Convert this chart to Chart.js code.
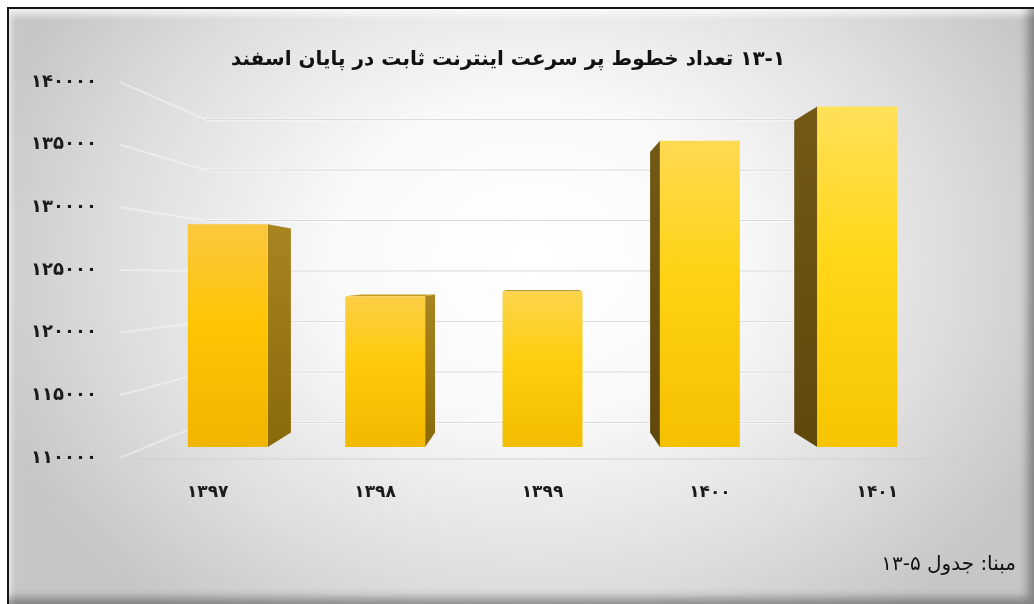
<!DOCTYPE html>
<html lang="fa">
<head>
<meta charset="utf-8">
<title>خطوط پر سرعت اینترنت ثابت</title>
<script src="https://cdn.jsdelivr.net/npm/chart.js@4.4.0/dist/chart.umd.min.js"></script>
<style>
  html, body { margin: 0; padding: 0; background: #fff; }
  #wrap { position: relative; width: 1034px; height: 604px; overflow: hidden; }
  #frame {
    position: absolute; left: 7px; top: 7px; right: 0; bottom: 0;
    border-left: 2px solid #161616; border-top: 2px solid #161616;
    background: radial-gradient(ellipse 56% 76% at 51% 42%, #ffffff 0%, #f9f9f9 35%, #dedede 72%, #c6c6c6 100%);
    box-shadow: inset -12px -12px 10px -6px rgba(0,0,0,0.35), inset 6px 10px 6px -4px rgba(255,255,255,0.7);
  }
  #chart { position: absolute; left: 0; top: 0; }
</style>
</head>
<body>
<div id="wrap">
  <div id="frame"></div>
  <canvas id="chart" width="1016" height="604" dir="rtl"></canvas>
</div>
<script>
  // data
  const years = ['۱۳۹۷', '۱۳۹۸', '۱۳۹۹', '۱۴۰۰', '۱۴۰۱'];
  const lines = [128900, 122800, 123200, 136000, 138900];
  const yTicks = [110000, 115000, 120000, 125000, 130000, 135000, 140000];
  const chartTitle = '۱۳-۱ تعداد خطوط پر سرعت اینترنت ثابت در پایان اسفند';
  const sourceNote = 'مبنا: جدول ۵-۱۳';

  const faDigits = '۰۱۲۳۴۵۶۷۸۹';
  const toFa = n => String(n).replace(/\d/g, d => faDigits[d]);

  // perspective: everything is projected toward a vanishing point
  const VX = 543, VY = 275;
  const BAR_FRONT = 0.94, BAR_BACK = 0.861, WALL = 0.805;

  function project(x, y, s) {
    return { x: VX + (x - VX) * s, y: VY + (y - VY) * s };
  }

  function poly(ctx, pts, fill) {
    ctx.beginPath();
    ctx.moveTo(pts[0].x, pts[0].y);
    for (let i = 1; i < pts.length; i++) ctx.lineTo(pts[i].x, pts[i].y);
    ctx.closePath();
    ctx.fillStyle = fill;
    ctx.fill();
  }

  function mix(c1, c2, t) {
    const c = c1.map((v, i) => Math.round(v + (c2[i] - v) * t));
    return 'rgb(' + c.join(',') + ')';
  }

  // back wall, side wall and floor lines
  const walls = {
    id: 'walls',
    beforeDatasetsDraw(chart) {
      const { ctx, chartArea: a, scales: { y } } = chart;
      ctx.save();
      ctx.lineJoin = 'round';
      y.ticks.forEach(t => {
        const py = y.getPixelForValue(t.value);
        const p1 = { x: a.left - 4, y: py };
        const p2 = project(a.left, py, WALL);
        const p3 = project(a.right, py, WALL);
        ctx.lineWidth = 2;
        ctx.strokeStyle = 'rgba(255,255,255,0.4)';
        ctx.beginPath();
        ctx.moveTo(p1.x, p1.y);
        ctx.lineTo(p2.x, p2.y);
        ctx.stroke();
        [[3, 'rgba(255,255,255,0.6)'], [1, 'rgba(200,200,200,0.7)']].forEach(([w, c]) => {
          ctx.lineWidth = w;
          ctx.strokeStyle = c;
          ctx.beginPath();
          ctx.moveTo(p2.x, p2.y);
          ctx.lineTo(p3.x, p3.y);
          ctx.stroke();
        });
      });
      // floor front edge
      const fy = y.getPixelForValue(yTicks[0]);
      ctx.lineWidth = 1;
      ctx.strokeStyle = 'rgba(205,205,205,0.8)';
      ctx.beginPath();
      ctx.moveTo(a.left, fy + 1);
      ctx.lineTo(a.right, fy + 1);
      ctx.stroke();
      ctx.restore();
    }
  };

  // 3d columns built from the bar elements
  const boxes = {
    id: 'boxes',
    afterDatasetsDraw(chart) {
      const { ctx, chartArea: a, scales: { y: yScale } } = chart;
      const meta = chart.getDatasetMeta(0);
      const floor = yScale.getPixelForValue(yTicks[0]);
      ctx.save();
      meta.data.forEach(bar => {
        const { x, y, width } = bar.getProps(['x', 'y', 'width'], true);
        const base = floor;
        const l = x - width / 2, r = x + width / 2;
        const f = [project(l, y, BAR_FRONT), project(r, y, BAR_FRONT), project(r, base, BAR_FRONT), project(l, base, BAR_FRONT)];
        const b = [project(l, y, BAR_BACK), project(r, y, BAR_BACK), project(r, base, BAR_BACK), project(l, base, BAR_BACK)];
        const t = (x - a.left) / (a.right - a.left);

        if (r < VX) {
          const g = ctx.createLinearGradient(0, f[1].y, 0, f[2].y);
          g.addColorStop(0, '#a8851f');
          g.addColorStop(1, '#8a690b');
          poly(ctx, [f[1], b[1], b[2], f[2]], g);
        }
        if (l > VX) {
          const g = ctx.createLinearGradient(0, f[0].y, 0, f[3].y);
          g.addColorStop(0, '#725915');
          g.addColorStop(1, '#5f480b');
          poly(ctx, [f[0], b[0], b[3], f[3]], g);
        }
        if (y > VY) poly(ctx, [f[0], f[1], b[1], b[0]], '#c29a24');

        const g = ctx.createLinearGradient(0, f[0].y, 0, f[3].y);
        g.addColorStop(0, mix([251, 196, 60], [255, 228, 92], t));
        g.addColorStop(0.45, mix([253, 195, 0], [255, 217, 26], t));
        g.addColorStop(1, mix([239, 179, 0], [247, 198, 0], t));
        poly(ctx, f, g);
      });
      ctx.restore();
    }
  };

  Chart.defaults.font.family = "'DejaVu Sans', sans-serif";

  new Chart(document.getElementById('chart'), {
    type: 'bar',
    data: {
      labels: years,
      datasets: [{
        data: lines,
        backgroundColor: 'rgba(0,0,0,0)',
        borderWidth: 0,
        categoryPercentage: 1,
        barPercentage: 0.508
      }]
    },
    options: {
      responsive: false,
      animation: false,
      layout: { padding: 0 },
      plugins: {
        legend: { display: false },
        tooltip: { enabled: false },
        title: {
          display: true,
          text: chartTitle,
          color: '#111',
          font: { size: 20, weight: 'bold' },
          padding: { top: 48, bottom: 10 }
        },
        subtitle: {
          display: true,
          position: 'bottom',
          align: 'end',
          text: sourceNote,
          color: '#111',
          font: { size: 20, weight: 'normal' },
          padding: { top: 15, bottom: 27 }
        }
      },
      scales: {
        x: {
          offset: true,
          grid: { display: false, drawTicks: false },
          border: { display: false },
          ticks: { padding: 24, color: '#1a1a1a', font: { size: 17, weight: 'bold' } },
          afterFit(s) { s.height = 80; }
        },
        y: {
          min: yTicks[0],
          max: yTicks[yTicks.length - 1],
          afterBuildTicks(s) { s.ticks = yTicks.map(v => ({ value: v })); },
          grid: { display: false, drawTicks: false },
          border: { display: false },
          ticks: { padding: 27, color: '#1a1a1a', font: { size: 18, weight: 'bold' }, callback: v => toFa(v) },
          afterFit(s) { s.width = 124; }
        },
        // empty right-hand axis that keeps the plot clear of the right margin
        yRight: {
          position: 'right',
          display: true,
          grid: { display: false, drawTicks: false },
          border: { display: false },
          ticks: { display: false },
          afterFit(s) { s.width = 55; }
        }
      }
    },
    plugins: [walls, boxes]
  });
</script>
</body>
</html>
